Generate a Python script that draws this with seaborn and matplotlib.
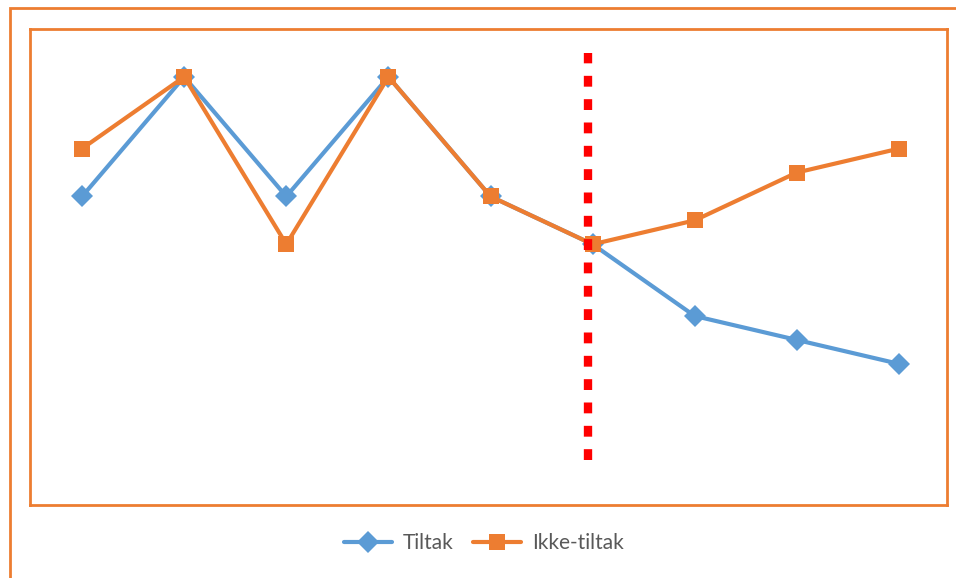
import numpy as np
import pandas as pd
import seaborn as sns
import matplotlib
matplotlib.use("Agg")
from matplotlib import pyplot as plt
from matplotlib.patches import Rectangle
from matplotlib.lines import Line2D

# data
periods = list(range(9))
tiltak = [7, 12, 7, 12, 7, 5, 2, 1, 0]
ikke_tiltak = [9, 12, 5, 12, 7, 5, 6, 8, 9]
series_names = ['Tiltak', 'Ikke-tiltak']
divider_x = 4.95
divider_span = [-4, 13]

blue = '#5B9BD5'
orange = '#ED7D31'

df = pd.DataFrame({
    'periode': periods * 2,
    'verdi': tiltak + ikke_tiltak,
    'serie': [series_names[0]] * len(periods) + [series_names[1]] * len(periods),
})

sns.set_style('white')
plt.rcParams['font.family'] = ['Lato', 'DejaVu Sans']

fig = plt.figure(figsize=(9.56, 5.78), dpi=100)
ax = fig.add_axes([30 / 956, 1 - 505 / 578, 917 / 956, 476 / 578])

sns.lineplot(data=df, x='periode', y='verdi', hue='serie', style='serie',
             hue_order=series_names, style_order=series_names,
             palette={'Tiltak': blue, 'Ikke-tiltak': orange},
             markers={'Tiltak': 'D', 'Ikke-tiltak': 's'}, dashes=False,
             linewidth=3, markersize=11.5, markeredgewidth=0, legend=False, ax=ax)

# vertical dotted divider
ax.plot([divider_x, divider_x], divider_span, color='#FF0000', linewidth=6,
        linestyle=(0, (1.3, 1.5)), zorder=5)

ax.set_xlim(-0.51, 8.47)
ax.set_ylim(-5.9, 14)
ax.set_xticks([])
ax.set_yticks([])
ax.set_xlabel('')
ax.set_ylabel('')
for sp in ax.spines.values():
    sp.set_visible(True)
    sp.set_color(orange)
    sp.set_linewidth(2)

# outer frame (cut off at right and bottom)
fig.patches.append(Rectangle((9.5 / 956, -0.2), 1.2, 1.2 - 7.5 / 578,
                             transform=fig.transFigure, fill=False,
                             edgecolor=orange, linewidth=2, clip_on=False))

handles = [
    Line2D([0], [0], color=blue, linewidth=3, marker='D', markersize=11.5, markeredgewidth=0),
    Line2D([0], [0], color=orange, linewidth=3, marker='s', markersize=11.5, markeredgewidth=0),
]
fig.legend(handles, series_names, loc='center', bbox_to_anchor=(0.506, 0.06),
           ncol=2, frameon=False, fontsize=15, handlelength=2.3,
           handletextpad=0.55, columnspacing=0.9, labelcolor='#595959')

fig.savefig('out.png', dpi=100)
